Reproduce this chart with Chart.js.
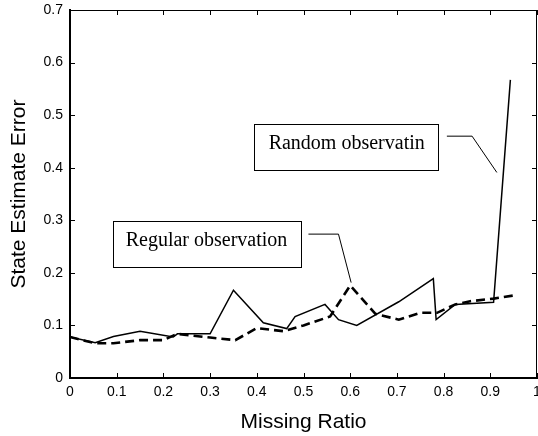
<!DOCTYPE html>
<html>
<head>
<meta charset="utf-8">
<script src="https://cdn.jsdelivr.net/npm/chart.js@4"></script>
<style>
  body { margin: 0; background: #fff; }
  canvas { display: block; }
</style>
</head>
<body>
<canvas id="errorChart" width="538" height="436"></canvas>
<script>
// Random observation (solid line)
const randomRatio = [0, 0.054, 0.093, 0.15, 0.221, 0.23, 0.3, 0.35, 0.414, 0.464, 0.482, 0.546, 0.575, 0.614, 0.704, 0.778, 0.784, 0.825, 0.907, 0.943];
const randomError = [0.078, 0.067, 0.079, 0.089, 0.078, 0.084, 0.084, 0.167, 0.105, 0.094, 0.117, 0.140, 0.111, 0.100, 0.145, 0.189, 0.111, 0.140, 0.144, 0.567];

// Regular observation (dashed line)
const regularRatio = [0, 0.054, 0.093, 0.15, 0.2, 0.229, 0.3, 0.354, 0.4, 0.457, 0.5, 0.557, 0.6, 0.654, 0.704, 0.75, 0.786, 0.825, 0.857, 0.907, 0.95];
const regularError = [0.078, 0.066, 0.066, 0.072, 0.072, 0.084, 0.077, 0.072, 0.095, 0.089, 0.100, 0.117, 0.176, 0.122, 0.111, 0.124, 0.124, 0.140, 0.146, 0.151, 0.157];

const xTicks = [0, 0.1, 0.2, 0.3, 0.4, 0.5, 0.6, 0.7, 0.8, 0.9, 1];
const yTicks = [0, 0.1, 0.2, 0.3, 0.4, 0.5, 0.6, 0.7];
const xTickLabels = ['0', '0.1', '0.2', '0.3', '0.4', '0.5', '0.6', '0.7', '0.8', '0.9', '1'];
const yTickLabels = ['0', '0.1', '0.2', '0.3', '0.4', '0.5', '0.6', '0.7'];

const sansFont = "'Liberation Sans', Arial, sans-serif";
const serifFont = "'Liberation Serif', 'Times New Roman', serif";

// box, inward ticks and the two text callouts
const framePlugin = {
    id: 'frame',
    afterDraw(chart) {
        const ctx = chart.ctx;
        const area = chart.chartArea;
        const x = chart.scales.x;
        const y = chart.scales.y;
        ctx.save();
        ctx.strokeStyle = '#000';
        ctx.lineWidth = 1;

        // top and right edges
        ctx.beginPath();
        ctx.moveTo(area.left, area.top + 0.5);
        ctx.lineTo(area.right - 0.5, area.top + 0.5);
        ctx.lineTo(area.right - 0.5, area.bottom);
        ctx.stroke();

        // ticks pointing inwards
        ctx.beginPath();
        xTicks.forEach(v => {
            const px = Math.round(x.getPixelForValue(v)) + 0.5;
            ctx.moveTo(px, area.bottom);
            ctx.lineTo(px, area.bottom - 5);
            ctx.moveTo(px, area.top);
            ctx.lineTo(px, area.top + 5);
        });
        yTicks.forEach(v => {
            const py = Math.round(y.getPixelForValue(v)) + 0.5;
            ctx.moveTo(area.left, py);
            ctx.lineTo(area.left + 5, py);
            ctx.moveTo(area.right, py);
            ctx.lineTo(area.right - 5, py);
        });
        ctx.stroke();

        // callouts
        const callouts = [
            { text: 'Random observatin', box: [0.395, 0.484, 0.79, 0.396], base: 0.436,
              leader: [[0.807, 0.46], [0.861, 0.46], [0.914, 0.391]] },
            { text: 'Regular observation', box: [0.0915, 0.2977, 0.493, 0.21], base: 0.2514,
              leader: [[0.5106, 0.2737], [0.5749, 0.2737], [0.602, 0.1815]] }
        ];
        ctx.font = '20px ' + serifFont;
        ctx.textAlign = 'center';
        ctx.textBaseline = 'alphabetic';
        callouts.forEach(c => {
            const x1 = x.getPixelForValue(c.box[0]);
            const y1 = y.getPixelForValue(c.box[1]);
            const x2 = x.getPixelForValue(c.box[2]);
            const y2 = y.getPixelForValue(c.box[3]);
            ctx.fillStyle = '#fff';
            ctx.fillRect(x1, y1, x2 - x1, y2 - y1);
            ctx.strokeRect(Math.round(x1) + 0.5, Math.round(y1) + 0.5, Math.round(x2 - x1), Math.round(y2 - y1));
            ctx.fillStyle = '#000';
            ctx.fillText(c.text, (x1 + x2) / 2, y.getPixelForValue(c.base));
            ctx.beginPath();
            c.leader.forEach((p, i) => {
                const px = x.getPixelForValue(p[0]);
                const py = y.getPixelForValue(p[1]);
                if (i === 0) ctx.moveTo(px, py); else ctx.lineTo(px, py);
            });
            ctx.stroke();
        });
        ctx.restore();
    }
};

const ctx = document.getElementById('errorChart').getContext('2d');
const chart = new Chart(ctx, {
    type: 'line',
    data: {
        datasets: [{
            label: 'Random observatin',
            data: randomRatio.map((r, i) => ({ x: r, y: randomError[i] })),
            borderColor: '#000',
            borderWidth: 1.5,
            pointRadius: 0,
            tension: 0,
            fill: false
        }, {
            label: 'Regular observation',
            data: regularRatio.map((r, i) => ({ x: r, y: regularError[i] })),
            borderColor: '#000',
            borderWidth: 2.6,
            borderDash: [9, 5],
            pointRadius: 0,
            tension: 0,
            fill: false
        }]
    },
    options: {
        responsive: false,
        animation: false,
        layout: { padding: { top: 10, right: 1, left: 0, bottom: 0 } },
        plugins: {
            legend: { display: false },
            tooltip: { enabled: false }
        },
        scales: {
            x: {
                type: 'linear',
                min: 0,
                max: 1,
                afterBuildTicks: s => { s.ticks = xTicks.map(v => ({ value: v })); },
                afterFit: s => { s.height = 58; s.paddingLeft = 0; s.paddingRight = 0; },
                grid: { display: false, drawTicks: false },
                border: { display: true, color: '#000', width: 2 },
                ticks: {
                    color: '#000',
                    padding: 6,
                    maxRotation: 0,
                    autoSkip: false,
                    font: { family: sansFont, size: 14 },
                    callback: (v, i) => xTickLabels[i]
                },
                title: {
                    display: true,
                    text: 'Missing Ratio',
                    color: '#000',
                    padding: { top: 0, bottom: 1 },
                    font: { family: sansFont, size: 21 }
                }
            },
            y: {
                min: 0,
                max: 0.7,
                afterBuildTicks: s => { s.ticks = yTicks.map(v => ({ value: v })); },
                afterFit: s => { s.width = 70; s.paddingTop = 0; s.paddingBottom = 0; },
                grid: { display: false, drawTicks: false },
                border: { display: true, color: '#000', width: 2 },
                ticks: {
                    color: '#000',
                    padding: 7,
                    autoSkip: false,
                    font: { family: sansFont, size: 14 },
                    callback: (v, i) => yTickLabels[i]
                },
                title: {
                    display: true,
                    text: 'State Estimate Error',
                    color: '#000',
                    padding: { top: 7, bottom: 0 },
                    font: { family: sansFont, size: 21 }
                }
            }
        }
    },
    plugins: [framePlugin]
});
</script>
</body>
</html>
